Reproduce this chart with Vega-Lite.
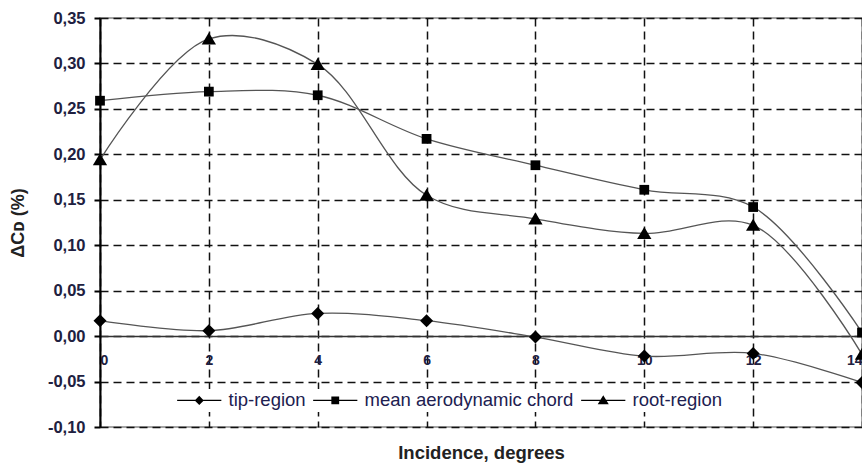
{
  "$schema": "https://vega.github.io/schema/vega-lite/v6.json",
  "autosize": "none",
  "width": 762,
  "height": 409,
  "padding": {"left": 100, "top": 18, "right": 0, "bottom": 42},
  "background": "white",
  "config": {
    "view": {"stroke": "#888", "strokeWidth": 1.5},
    "font": "Liberation Sans"
  },
  "data": {
    "values": [
      {"inc": 0, "series": "tip-region", "dcd": 0.017},
      {"inc": 2, "series": "tip-region", "dcd": 0.006},
      {"inc": 4, "series": "tip-region", "dcd": 0.025},
      {"inc": 6, "series": "tip-region", "dcd": 0.017},
      {"inc": 8, "series": "tip-region", "dcd": -0.001},
      {"inc": 10, "series": "tip-region", "dcd": -0.022},
      {"inc": 12, "series": "tip-region", "dcd": -0.019},
      {"inc": 14, "series": "tip-region", "dcd": -0.051},
      {"inc": 0, "series": "mean aerodynamic chord", "dcd": 0.259},
      {"inc": 2, "series": "mean aerodynamic chord", "dcd": 0.269},
      {"inc": 4, "series": "mean aerodynamic chord", "dcd": 0.265},
      {"inc": 6, "series": "mean aerodynamic chord", "dcd": 0.217},
      {"inc": 8, "series": "mean aerodynamic chord", "dcd": 0.188},
      {"inc": 10, "series": "mean aerodynamic chord", "dcd": 0.161},
      {"inc": 12, "series": "mean aerodynamic chord", "dcd": 0.142},
      {"inc": 14, "series": "mean aerodynamic chord", "dcd": 0.004},
      {"inc": 0, "series": "root-region", "dcd": 0.194},
      {"inc": 2, "series": "root-region", "dcd": 0.327},
      {"inc": 4, "series": "root-region", "dcd": 0.299},
      {"inc": 6, "series": "root-region", "dcd": 0.155},
      {"inc": 8, "series": "root-region", "dcd": 0.129},
      {"inc": 10, "series": "root-region", "dcd": 0.113},
      {"inc": 12, "series": "root-region", "dcd": 0.122},
      {"inc": 14, "series": "root-region", "dcd": -0.02}
    ]
  },
  "encoding": {
    "x": {
      "field": "inc", "type": "quantitative",
      "scale": {"domain": [0, 14], "nice": false, "zero": false},
      "axis": {
        "title": "Incidence, degrees",
        "values": [0, 2, 4, 6, 8, 10, 12, 14],
        "offset": -91,
        "grid": true, "gridColor": "#111", "gridDash": [8, 5], "gridWidth": 1.5,
        "domainColor": "#333", "domainWidth": 1.5,
        "ticks": false,
        "labelPadding": 17, "labelFontSize": 14, "labelFontWeight": "bold", "labelColor": "#202040",
        "titleFontSize": 18.5, "titleFontWeight": "bold", "titleColor": "#222", "titlePadding": 76
      }
    },
    "y": {
      "field": "dcd", "type": "quantitative",
      "scale": {"domain": [-0.1, 0.35], "nice": false, "zero": false},
      "axis": {
        "title": "ΔCᴅ (%)",
        "values": [-0.1, -0.05, 0, 0.05, 0.1, 0.15, 0.2, 0.25, 0.3, 0.35],
        "labelExpr": "replace(replace(format(datum.value, '.2f'), '.', ','), '\u2212', '-')",
        "grid": true, "gridColor": "#111", "gridDash": [8, 5], "gridWidth": 1.5,
        "domainColor": "#000", "domainWidth": 2,
        "tickColor": "#000", "tickSize": 6, "tickWidth": 2,
        "labelPadding": 9, "labelFontSize": 16.5, "labelFontWeight": "bold", "labelColor": "#202040",
        "titleFontSize": 18, "titleFontWeight": "bold", "titleColor": "#222", "titlePadding": 20
      }
    }
  },
  "layer": [
    {
      "mark": {"type": "line", "interpolate": "catmull-rom", "color": "#555", "strokeWidth": 1.3},
      "encoding": {"detail": {"field": "series"}}
    },
    {
      "mark": {"type": "point", "filled": true, "color": "black", "opacity": 1, "size": 169},
      "encoding": {
        "shape": {
          "field": "series", "type": "nominal",
          "scale": {"domain": ["tip-region", "mean aerodynamic chord", "root-region"], "range": ["M0,-1L1,0L0,1L-1,0Z", "M-0.75,-0.75H0.75V0.75H-0.75Z", "M0,-1L1.1,0.85H-1.1Z"]},
          "legend": null
        }
      }
    },
    {
      "transform": [{"filter": "false"}],
      "mark": {"type": "point", "filled": true, "color": "black", "opacity": 1, "size": 169},
      "encoding": {
        "shape": {
          "field": "series", "type": "nominal",
          "scale": {"domain": ["tip-region", "mean aerodynamic chord", "root-region"], "range": ["M-3.4,-0.1H3.4V0.1H-3.4ZM0,-0.7L0.7,0L0,0.7L-0.7,0Z", "M-3.4,-0.1H3.4V0.1H-3.4ZM-0.6,-0.6H0.6V0.6H-0.6Z", "M-3.4,-0.1H3.4V0.1H-3.4ZM0,-0.8L0.85,0.6H-0.85Z"]},
          "legend": {
            "title": null,
            "orient": "none", "legendX": 72, "legendY": 371,
            "direction": "horizontal", "columns": 3,
            "fillColor": "white", "padding": 2,
            "symbolSize": 169, "symbolOffset": 16, "labelOffset": 20, "columnPadding": 4,
            "labelFont": "Liberation Sans", "labelFontSize": 18.5, "labelColor": "#202050", "labelLimit": 300
          }
        }
      }
    }
  ],
  "resolve": {"scale": {"shape": "independent"}, "legend": {"shape": "independent"}}
}
